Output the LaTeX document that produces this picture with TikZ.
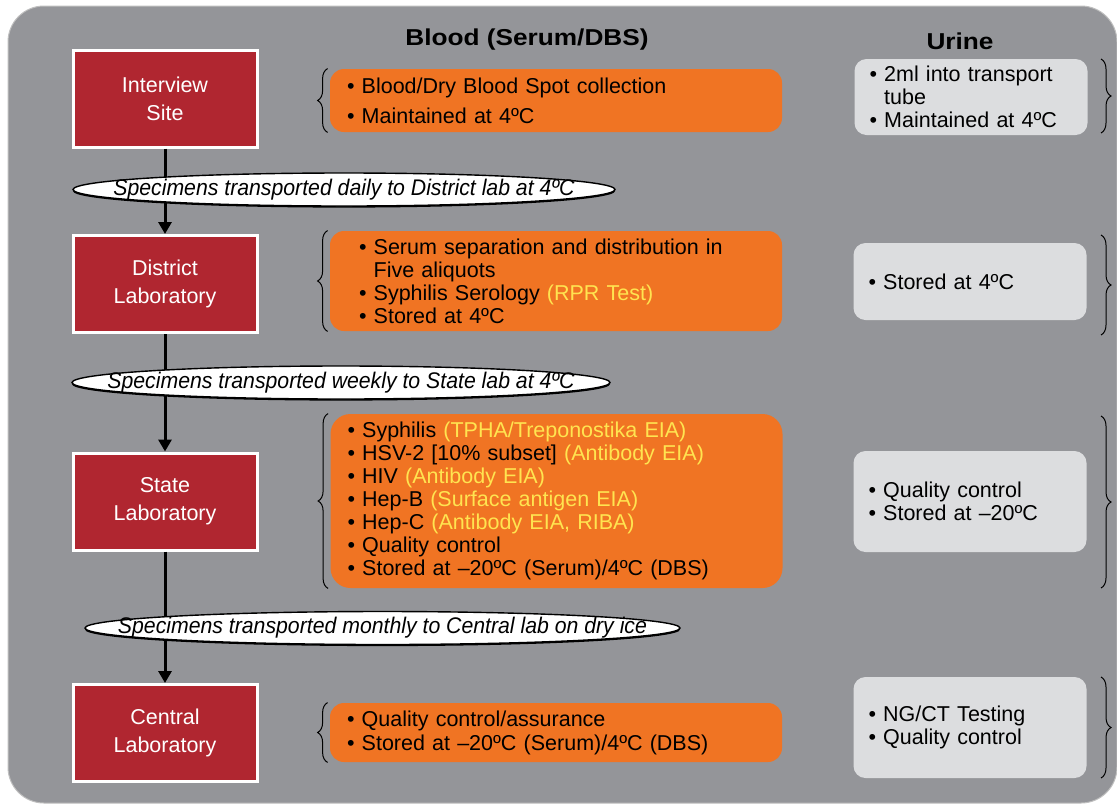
\documentclass[tikz,border=0pt]{standalone}
\usepackage{fontspec}
\setmainfont{Liberation Sans}
\newfontfamily\headfont[FakeStretch=1.14]{Liberation Sans}
\newfontfamily\haulfont[FakeStretch=0.94]{Liberation Sans}
\usetikzlibrary{arrows.meta,positioning,shapes.geometric,decorations.pathreplacing,shadows}
\definecolor{panelgray}{RGB}{148,149,153}
\definecolor{sitered}{RGB}{176,38,48}
\definecolor{bloodorange}{RGB}{240,116,35}
\definecolor{urinegray}{RGB}{220,221,223}
\definecolor{testyellow}{RGB}{255,228,80}
\newcommand{\bodyfont}{\fontsize{10.75}{11.5}\selectfont}
\newcommand{\testname}[1]{\textcolor{testyellow}{#1}}
\newcommand{\hang}{\hphantom{• }}

\tikzset{
  site/.style={draw=white,line width=1.5pt,fill=sitered,text=white,minimum width=92pt,minimum height=48.5pt,align=center,font=\fontsize{10.75}{14}\selectfont},
  blood/.style={fill=bloodorange,rounded corners=7pt,text width=209pt,inner xsep=8.5pt,inner ysep=0pt,align=left,font=\bodyfont},
  urine/.style={fill=urinegray,rounded corners=6pt,text width=101.5pt,inner xsep=7.5pt,inner ysep=0pt,align=left,font=\bodyfont},
  haul/.style={ellipse,draw,fill=white,line width=0.7pt,inner sep=0pt,minimum height=16.5pt,
    drop shadow={shadow xshift=0pt,shadow yshift=-0.8pt,fill=black,opacity=1}},
  haultext/.style={font=\haulfont\itshape\fontsize{11.3}{13}\selectfont},
  flow/.style={line width=1.5pt,-{Triangle[width=6.5pt,length=6pt]}},
  curly/.style={decorate,decoration={brace,amplitude=5pt},line width=0.5pt},
  colhead/.style={font=\headfont\bfseries\fontsize{11.5}{14}\selectfont},
}

\begin{document}
\begin{tikzpicture}[x=0.5pt,y=-0.5pt]
  \useasboundingbox (0,0) rectangle (1117,804);
  \fill[panelgray,draw=black!25,line width=0.5pt,rounded corners=18pt] (8,6) rectangle (1117,803);

  % column heads
  \node[colhead] (bloodhead) at (527,40) {Blood (Serum/DBS)};
  \node[colhead] (urinehead) at (960,41) {Urine};

  % sites
  \node[site] (interview) at (165,98.5) {Interview\\Site};
  \node[site] (district) at (165,284) {District\\Laboratory};
  \node[site] (state) at (165,501.5) {State\\Laboratory};
  \node[site] (central) at (165,733) {Central\\Laboratory};

  % blood work
  \node[blood,minimum height=31.5pt] (collect) at (556,100.5) {• Blood/Dry Blood Spot collection\\[3.5pt]• Maintained at 4ºC};
  \node[blood,minimum height=50pt,inner xsep=14.5pt,text width=197pt] (separate) at (556,281) {• Serum separation and distribution in\\\hang Five aliquots\\• Syphilis Serology \testname{(RPR Test)}\\• Stored at 4ºC};
  \node[blood,minimum height=87pt,rounded corners=10pt] (assay) at (556.5,501) {• Syphilis \testname{(TPHA/Treponostika EIA)}\\• HSV-2 [10\% subset] \testname{(Antibody EIA)}\\• HIV \testname{(Antibody EIA)}\\• Hep-B \testname{(Surface antigen EIA)}\\• Hep-C \testname{(Antibody EIA, RIBA)}\\• Quality control\\• Stored at --20ºC (Serum)/4ºC (DBS)};
  \node[blood,minimum height=29.5pt] (archive) at (556,732.5) {• Quality control/assurance\\[0.5pt]• Stored at --20ºC (Serum)/4ºC (DBS)};

  % urine work
  \node[urine,minimum height=38pt] (tube) at (971,97) {• 2ml into transport\\\hang tube\\• Maintained at 4ºC};
  \node[urine,minimum height=38.5pt] (chill) at (970,281.5) {• Stored at 4ºC};
  \node[urine,minimum height=50.5pt] (freeze) at (970,501.5) {• Quality control\\• Stored at --20ºC};
  \node[urine,minimum height=50.5pt] (ngct) at (970,727.5) {• NG/CT Testing\\• Quality control};

  % braces
  \foreach \blk in {collect,separate,assay,archive}
    \draw[curly] ([xshift=-1pt]\blk.south west) -- ([xshift=-1pt]\blk.north west);
  \foreach \top/\bot in {59/133,235/335,416/588,677/778}
    \draw[curly] (1101,\top) -- (1101,\bot);

  % transport
  \draw[flow] (interview) -- (district);
  \draw[flow] (district) -- (state);
  \draw[flow] (state) -- (central);
  \node[haul,minimum width=271pt,label={[haultext]center:Specimens transported daily to District lab at 4ºC}] (daily) at (344,189.5) {};
  \node[haul,minimum width=269pt,label={[haultext]center:Specimens transported weekly to State lab at 4ºC}] (weekly) at (341,382.5) {};
  \node[haul,minimum width=297.5pt,label={[haultext]center:Specimens transported monthly to Central lab on dry ice}] (monthly) at (382.5,628) {};
\end{tikzpicture}
\end{document}
